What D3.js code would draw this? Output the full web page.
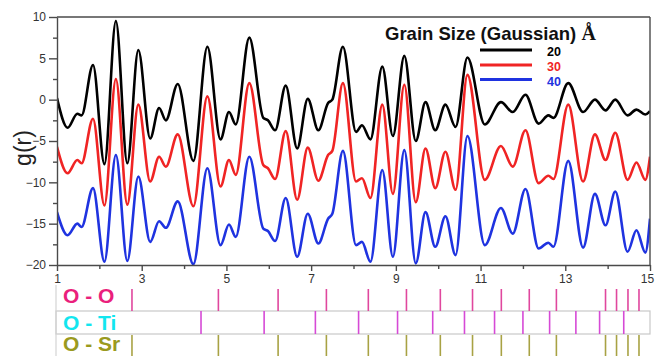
<!DOCTYPE html>
<html>
<head>
<meta charset="utf-8">
<script src="https://cdn.jsdelivr.net/npm/d3@7"></script>
<style>
  html, body { margin: 0; padding: 0; background: #fff; }
  svg { display: block; font-family: Arial, "Liberation Sans", sans-serif; }
</style>
</head>
<body>
<svg id="chart" width="655" height="356"></svg>
<script>
// Radial distance r (Å) at which each curve's turning points were sampled
const rValues = [
  1.00, 1.25, 1.48, 1.58, 1.85, 2.12, 2.39, 2.66, 2.92, 3.20,
  3.41, 3.57, 3.85, 4.22, 4.55, 4.86, 5.06, 5.22, 5.54, 5.87,
  5.98, 6.15, 6.40, 6.67, 6.92, 7.17, 7.40, 7.50, 7.75, 8.06,
  8.20, 8.40, 8.68, 8.93, 9.20, 9.47, 9.70, 9.93, 10.17, 10.41,
  10.69, 11.10, 11.48, 11.76, 12.06, 12.37, 12.60, 12.72, 13.07, 13.42,
  13.70, 13.95, 14.18, 14.47, 14.68, 14.89, 15.00
];

// g(r) for grain size 20 Å
const g20 = [
  0.2, -3.4, -1.7, -1.9, 4.2, -7.8, 9.5, -7.7, 6.0, -4.7,
  -1.0, -2.5, 1.9, -7.4, 6.4, -4.8, -1.5, -3.0, 7.5, -2.2,
  -2.5, -3.7, 1.7, -5.9, 0.1, -3.7, -0.4, 0.0, 6.4, -3.9,
  -3.1, -4.8, 4.0, -4.4, 5.3, -5.0, -0.3, -3.7, -0.6, -3.3,
  5.1, -3.0, -0.3, -1.5, 0.6, -2.9, -1.9, -2.2, 2.0, -1.5,
  0.0, -1.3, 0.0, -1.9, -1.2, -1.8, -1.4
];

// g(r) for grain size 30 Å
const g30 = [
  -5.7, -8.9, -7.3, -7.7, -2.3, -12.8, 2.5, -12.7, -0.6, -9.9,
  -6.9, -8.1, -4.2, -12.9, 0.4, -10.5, -7.3, -9.1, 2.0, -7.9,
  -8.3, -9.6, -3.8, -12.1, -5.8, -9.8, -6.7, -6.2, 2.0, -9.9,
  -9.5, -11.9, -0.6, -11.4, 1.8, -12.4, -5.9, -10.7, -6.3, -10.9,
  3.0, -9.7, -5.6, -8.1, -3.7, -10.1, -9.2, -9.6, -0.6, -9.9,
  -4.2, -7.3, -4.0, -9.7, -7.6, -9.7, -6.9
];

// g(r) for grain size 40 Å
const g40 = [
  -13.6, -16.4, -15.0, -15.4, -10.7, -19.6, -6.7, -19.5, -9.3, -17.2,
  -14.7, -15.5, -12.3, -19.9, -8.3, -17.6, -15.1, -16.6, -6.9, -15.6,
  -15.9, -17.1, -11.9, -19.0, -13.8, -17.4, -14.4, -13.8, -6.2, -17.6,
  -17.2, -19.6, -8.5, -19.0, -6.1, -19.8, -13.6, -17.8, -14.1, -18.8,
  -4.4, -17.6, -13.1, -16.2, -10.8, -18.0, -17.3, -17.8, -7.4, -17.9,
  -11.4, -15.2, -11.1, -18.4, -15.8, -18.5, -14.4
];

const seriesNames = ["20", "30", "40"];
const seriesColors = ["#000000", "#f02424", "#1f33e0"];

// Tick labels
const xTicks = [1, 3, 5, 7, 9, 11, 13, 15];
const xMinorTicks = [2, 4, 6, 8, 10, 12, 14];
const yTicks = [-20, -15, -10, -5, 0, 5, 10];
const yMinorTicks = [-17.5, -12.5, -7.5, -2.5, 2.5, 7.5];

// Pair distances marked in the strips below the plot
const pairLabels = ["O - O", "O - Ti", "O - Sr"];
const distOO = [2.77, 4.81, 6.22, 7.36, 8.35, 9.25, 10.05, 10.81, 11.49, 12.15, 12.79, 13.95, 14.21, 14.48, 14.74];
const distOTi = [4.40, 5.89, 7.10, 8.12, 9.04, 9.87, 10.62, 11.33, 12.00, 12.63, 13.25, 13.81, 14.38];
const distOSr = [2.77, 4.81, 6.22, 7.36, 8.35, 9.25, 10.05, 10.81, 11.49, 12.15, 12.79, 13.95, 14.21, 14.48, 14.74];

const svg = d3.select("#chart");
const plotLeft = 57, plotRight = 650, plotTop = 17, plotBottom = 265;

const x = d3.scaleLinear().domain([1, 15]).range([plotLeft, plotRight]);
const y = d3.scaleLinear().domain([-20, 10]).range([plotBottom, plotTop]);

const axisColor = "#4a4a4a";

// Curves
const seriesValues = [g20, g30, g40];
const line = d3.line()
  .x(d => x(d[0]))
  .y(d => y(d[1]))
  .curve(d3.curveMonotoneX);

svg.append("defs").append("clipPath").attr("id", "plotClip")
  .append("rect").attr("x", plotLeft).attr("y", plotTop - 2)
  .attr("width", plotRight - plotLeft).attr("height", plotBottom - plotTop + 4);

const plot = svg.append("g").attr("clip-path", "url(#plotClip)");
seriesValues.forEach((vals, i) => {
  plot.append("path")
    .datum(rValues.map((r, k) => [r, vals[k]]))
    .attr("fill", "none")
    .attr("stroke", seriesColors[i])
    .attr("stroke-width", 2.6)
    .attr("stroke-linejoin", "round")
    .attr("d", line);
});

// Axes
function styleAxis(g) {
  g.attr("font-family", null);
  g.selectAll("path, line").attr("stroke", axisColor).attr("stroke-width", 1.4);
  g.selectAll("text").attr("fill", "#333").attr("font-size", 12);
}

svg.append("g")
  .attr("transform", `translate(${plotLeft},0)`)
  .call(d3.axisLeft(y).tickValues(yTicks).tickSize(8).tickSizeOuter(0).tickPadding(3))
  .call(styleAxis);

svg.append("g")
  .attr("transform", `translate(${plotLeft},0)`)
  .call(d3.axisLeft(y).tickValues(yMinorTicks).tickSize(4).tickFormat(""))
  .call(styleAxis)
  .call(g => g.select(".domain").remove());

svg.append("g")
  .attr("transform", `translate(0,${plotBottom})`)
  .call(d3.axisBottom(x).tickValues(xTicks).tickSize(6).tickSizeOuter(0).tickPadding(3))
  .call(styleAxis)
  // keep the last label inside the page edge
  .call(g => g.selectAll(".tick text").filter(d => d === 15).attr("dx", -3));

svg.append("g")
  .attr("transform", `translate(0,${plotBottom})`)
  .call(d3.axisBottom(x).tickValues(xMinorTicks).tickSize(4).tickFormat(""))
  .call(styleAxis)
  .call(g => g.select(".domain").remove());

// Frame top and right
svg.append("line").attr("x1", plotLeft).attr("x2", plotRight).attr("y1", plotTop).attr("y2", plotTop)
  .attr("stroke", axisColor).attr("stroke-width", 1.4);
svg.append("line").attr("x1", plotRight).attr("x2", plotRight).attr("y1", plotTop).attr("y2", plotBottom)
  .attr("stroke", axisColor).attr("stroke-width", 1.4);

// Y axis title
svg.append("text")
  .attr("transform", "translate(31,148) rotate(-90)")
  .attr("text-anchor", "middle")
  .attr("font-size", 23)
  .attr("fill", "#222")
  .text("g(r)");

// Legend
const legend = svg.append("g");
legend.append("text")
  .attr("x", 385).attr("y", 40)
  .attr("font-size", 18.5).attr("font-weight", "bold").attr("fill", "#111")
  .text("Grain Size (Gaussian) ")
  .append("tspan")
  .attr("font-family", "'Liberation Serif', 'Times New Roman', serif")
  .attr("font-size", 20)
  .text("Å");

const legendY = [50, 65, 79.5];
seriesNames.forEach((name, i) => {
  legend.append("line")
    .attr("x1", 480).attr("x2", 532)
    .attr("y1", legendY[i]).attr("y2", legendY[i])
    .attr("stroke", seriesColors[i]).attr("stroke-width", 3);
  legend.append("text")
    .attr("x", 547).attr("y", legendY[i] + 6)
    .attr("font-size", 12.5).attr("font-weight", "bold")
    .attr("fill", seriesColors[i])
    .text(name);
});

// Pair-distance strips
const strips = [
  { label: pairLabels[0], dists: distOO, y0: 289, y1: 311, labelColor: "#ea1f7c", tickColor: "#e0479e", baseline: 303 },
  { label: pairLabels[1], dists: distOTi, y0: 311, y1: 334, labelColor: "#12e6ef", tickColor: "#d64ad6", baseline: 330 },
  { label: pairLabels[2], dists: distOSr, y0: 335, y1: 358, labelColor: "#9a9a1e", tickColor: "#a8a244", baseline: 351 }
];

// light frame round the O - Ti strip and the strips' left edge
svg.append("rect")
  .attr("x", 56).attr("y", 311).attr("width", plotRight - 56).attr("height", 23)
  .attr("fill", "none").attr("stroke", "#c8c8c8").attr("stroke-width", 1.2);
svg.append("line").attr("x1", 56).attr("x2", 56).attr("y1", 285).attr("y2", 356)
  .attr("stroke", "#d4d4d4").attr("stroke-width", 1.2);

strips.forEach(s => {
  svg.append("g").selectAll("line")
    .data(s.dists)
    .join("line")
    .attr("x1", d => x(d)).attr("x2", d => x(d))
    .attr("y1", s.y0).attr("y2", s.y1)
    .attr("stroke", s.tickColor).attr("stroke-width", 1.6);
  svg.append("text")
    .attr("x", 63).attr("y", s.baseline)
    .attr("font-size", 21).attr("font-weight", "bold")
    .attr("fill", s.labelColor)
    .text(s.label);
});
</script>
</body>
</html>
